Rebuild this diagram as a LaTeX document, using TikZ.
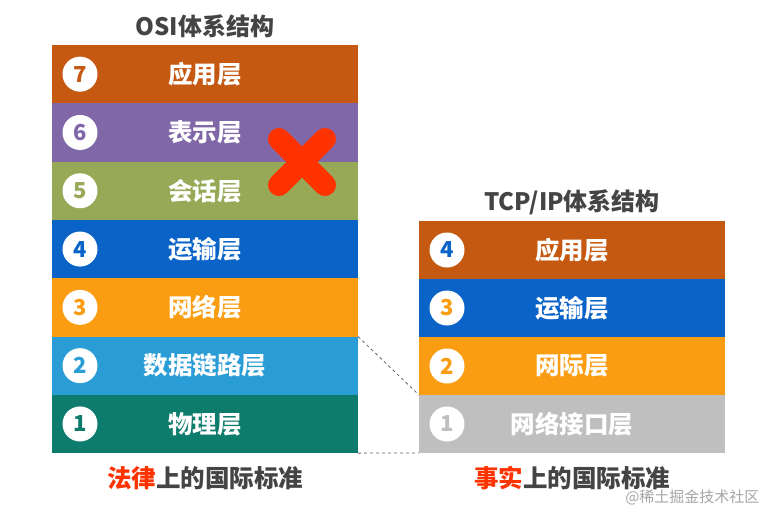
\documentclass[tikz,border=0pt]{standalone}
\usepackage{fontspec}
\setmainfont{Noto Sans CJK SC}
\definecolor{c7}{HTML}{C65911}
\definecolor{c6}{HTML}{8068A8}
\definecolor{c5}{HTML}{97A857}
\definecolor{c4}{HTML}{0A64C8}
\definecolor{c3}{HTML}{FA9D12}
\definecolor{c2}{HTML}{2A9CD6}
\definecolor{c1}{HTML}{0E7C6C}
\definecolor{cg}{HTML}{BFBFBF}
\definecolor{ttl}{HTML}{444444}
\definecolor{xred}{HTML}{FF3300}
\tikzset{
  layer/.style={minimum width=306pt, minimum height=58.3pt, inner sep=0pt, outer sep=0pt,
    text=white, font=\bfseries\fontsize{24.5}{26}\selectfont},
  num/.style={circle, fill=white, minimum size=35pt, inner sep=0pt,
    font=\bfseries\fontsize{22}{24}\selectfont},
  ttlstyle/.style={text=ttl, font=\bfseries\fontsize{24}{26}\selectfont},
  foot/.style={text=ttl, font=\bfseries\fontsize{24.5}{26}\selectfont},
  link/.style={draw=black!60, dashed, line width=0.8pt}
}
\begin{document}
\begin{tikzpicture}[x=1pt,y=-1pt]
\useasboundingbox (0,0) rectangle (767,512);
\fill[white] (0,0) rectangle (767,512);
% OSI
\node[ttlstyle] (osit) at (205,26) {OSI体系结构};
\node[layer, fill=c7] (o7) at (205,74.15) {应用层};
\node[layer, fill=c6] (o6) at (205,132.45) {表示层};
\node[layer, fill=c5] (o5) at (205,190.75) {会话层};
\node[layer, fill=c4] (o4) at (205,249.05) {运输层};
\node[layer, fill=c3] (o3) at (205,307.35) {网络层};
\node[layer, fill=c2] (o2) at (205,365.65) {数据链路层};
\node[layer, fill=c1] (o1) at (205,423.95) {物理层};
\node[num, text=c7] (n7) at (80,74.15) {7};
\node[num, text=c6] (n6) at (80,132.45) {6};
\node[num, text=c5] (n5) at (80,190.75) {5};
\node[num, text=c4] (n4) at (80,249.05) {4};
\node[num, text=c3] (n3) at (80,307.35) {3};
\node[num, text=c2] (n2) at (80,365.65) {2};
\node[num, text=c1] (n1) at (80,423.95) {1};
% TCP/IP
\node[ttlstyle] (tcpt) at (572,202) {TCP/IP体系结构};
\node[layer, fill=c7, minimum height=58pt] (t4) at (572,250) {应用层};
\node[layer, fill=c4, minimum height=58pt] (t3) at (572,308) {运输层};
\node[layer, fill=c3, minimum height=58pt] (t2) at (572,366) {网际层};
\node[layer, fill=cg, minimum height=58pt] (t1) at (572,424) {网络接口层};
\node[num, text=c4] (m4) at (447,250) {4};
\node[num, text=c3] (m3) at (447,308) {3};
\node[num, text=c3] (m2) at (447,366) {2};
\node[num, text=cg] (m1) at (447,424) {1};
% dashed links
\draw[link] (o2.north east) -- (t1.north west);
\draw[link] (o1.south east) -- (t1.south west);
% red cross
\draw[xred, line width=22pt, line cap=round] (279,139) -- (325,185);
\draw[xred, line width=22pt, line cap=round] (325,139) -- (279,185);
% footers
\node[foot] (f1) at (205,478) {\textcolor{xred}{法律}上的国际标准};
\node[foot] (f2) at (572,478) {\textcolor{xred}{事实}上的国际标准};
\node[text=black!35, font=\fontsize{15}{16}\selectfont, anchor=east] (wm) at (763,497) {@稀土掘金技术社区};
\end{tikzpicture}
\end{document}
